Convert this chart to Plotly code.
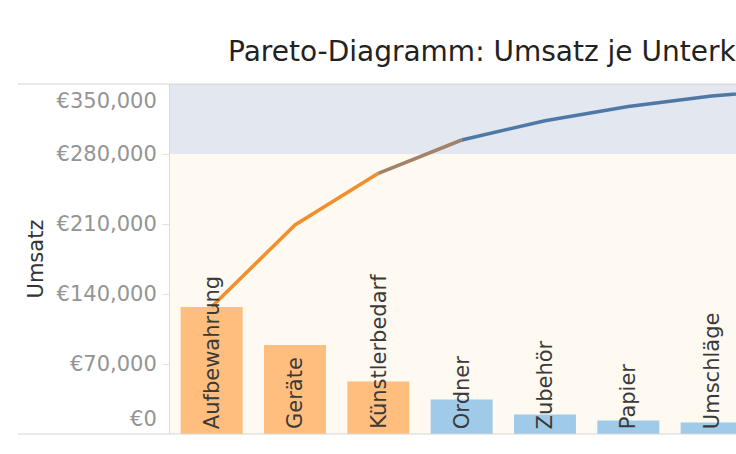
import plotly.graph_objects as go

# ---- data ----
categories = ["Aufbewahrung", "Geräte", "Künstlerbedarf", "Ordner", "Zubehör",
              "Papier", "Umschläge", "Etiketten"]
sales = [127000, 89000, 52500, 34500, 19500, 13500, 11500, 6500]
# running total as drawn by the line
cum_line = [127300, 209000, 260700, 294000, 313300, 327500, 338000, 345000]
threshold = 280000          # 80 % boundary of the background bands
axis_max = 350000
y_ticks = [70000, 140000, 210000, 280000]

ORANGE_BAR, BLUE_BAR = "#FFBE7D", "#A0CBE8"
ORANGE_LINE, BLUE_LINE, MIX_LINE = "#F28E2B", "#4E79A7", "#A08369"
FONT = "DejaVu Sans"

xs = list(range(len(categories)))
is_top = [c <= threshold for c in cum_line]

fig = go.Figure()
fig.add_trace(go.Bar(
    x=xs, y=sales,
    marker=dict(color=[ORANGE_BAR if t else BLUE_BAR for t in is_top], line=dict(width=0)),
    hoverinfo="skip", showlegend=False))

# line split by class (orange part, transition, blue part)
last_orange = max(i for i, t in enumerate(is_top) if t)
segs = [
    (xs[:last_orange + 1], cum_line[:last_orange + 1], ORANGE_LINE),
    (xs[last_orange:last_orange + 2], cum_line[last_orange:last_orange + 2], MIX_LINE),
    (xs[last_orange + 1:], cum_line[last_orange + 1:], BLUE_LINE),
]
for sx, sy, col in segs:
    fig.add_trace(go.Scatter(x=sx, y=sy, mode="lines",
                             line=dict(color=col, width=3.5),
                             hoverinfo="skip", showlegend=False))

# dummy traces for overlay axes (edge tick labels)
fig.add_trace(go.Scatter(x=[], y=[], yaxis="y3", showlegend=False))
fig.add_trace(go.Scatter(x=[], y=[], yaxis="y4", showlegend=False))

# category labels inside bars
for x, name in zip(xs, categories):
    fig.add_annotation(x=x, y=0, xref="x", yref="y", text=name, textangle=-90,
                       showarrow=False, xanchor="center", yanchor="bottom", yshift=3,
                       font=dict(family=FONT, size=21, color="#3a3a3a"))

W, H = 736, 454
L, T, B = 170, 84, 20
plot_w = W - L
left_ext = (18 - L) / plot_w
shapes = [
    dict(type="rect", xref="paper", yref="y", x0=0, x1=1, y0=0, y1=threshold,
         fillcolor="#FEF9F1", line=dict(width=0), layer="below"),
    dict(type="rect", xref="paper", yref="y", x0=0, x1=1, y0=threshold, y1=axis_max,
         fillcolor="#E2E7F0", line=dict(width=0), layer="below"),
    dict(type="line", xref="paper", yref="paper", x0=left_ext, x1=1, y0=1, y1=1,
         line=dict(color="#d6d6d6", width=1.2)),
    dict(type="line", xref="paper", yref="paper", x0=left_ext, x1=1, y0=0, y1=0,
         line=dict(color="#d6d6d6", width=1.2)),
]

tick_font = dict(family=FONT, size=21, color="#949494")
fmt = lambda v: "€{:,}".format(v)

fig.update_layout(
    width=W, height=H,
    margin=dict(l=L, r=0, t=T, b=B),
    paper_bgcolor="white", plot_bgcolor="white",
    bargap=0.256,
    hovermode=False,
    shapes=shapes,
    title=dict(text="Pareto-Diagramm: Umsatz je Unterkategorie",
               x=(228 - L) / plot_w, xref="paper", xanchor="left",
               y=1 - 51 / H, yref="container", yanchor="middle",
               font=dict(family=FONT, size=28, color="#222222")),
    xaxis=dict(range=[-0.5, -0.5 + plot_w / 83.33], showticklabels=False,
               showgrid=False, zeroline=False, showline=False, ticks=""),
    yaxis=dict(range=[0, axis_max], tickvals=y_ticks, ticktext=[fmt(v) for v in y_ticks],
               showgrid=False, zeroline=False, showline=True, linecolor="#d9d9d9",
               linewidth=1, ticks="outside", ticklen=7, tickcolor="#e3e3e3",
               tickfont=tick_font, ticklabelstandoff=1,
               title=dict(text="Umsatz", standoff=7,
                          font=dict(family=FONT, size=21, color="#333333"))),
    yaxis3=dict(overlaying="y", matches="y", side="left", tickvals=[0], ticktext=[fmt(0)],
                showgrid=False, zeroline=False, showline=False, ticks="outside", ticklen=7,
                tickcolor="rgba(0,0,0,0)", tickfont=tick_font, ticklabelstandoff=1,
                ticklabelshift=-15),
    yaxis4=dict(overlaying="y", matches="y", side="left", tickvals=[axis_max],
                ticktext=[fmt(axis_max)],
                showgrid=False, zeroline=False, showline=False, ticks="outside", ticklen=7,
                tickcolor="rgba(0,0,0,0)", tickfont=tick_font, ticklabelstandoff=1,
                ticklabelshift=17),
)

fig.write_html("out.html",
               config={"displayModeBar": False, "staticPlot": True},
               post_script="document.body.style.margin='0';"
                           "document.body.style.overflow='hidden';")
